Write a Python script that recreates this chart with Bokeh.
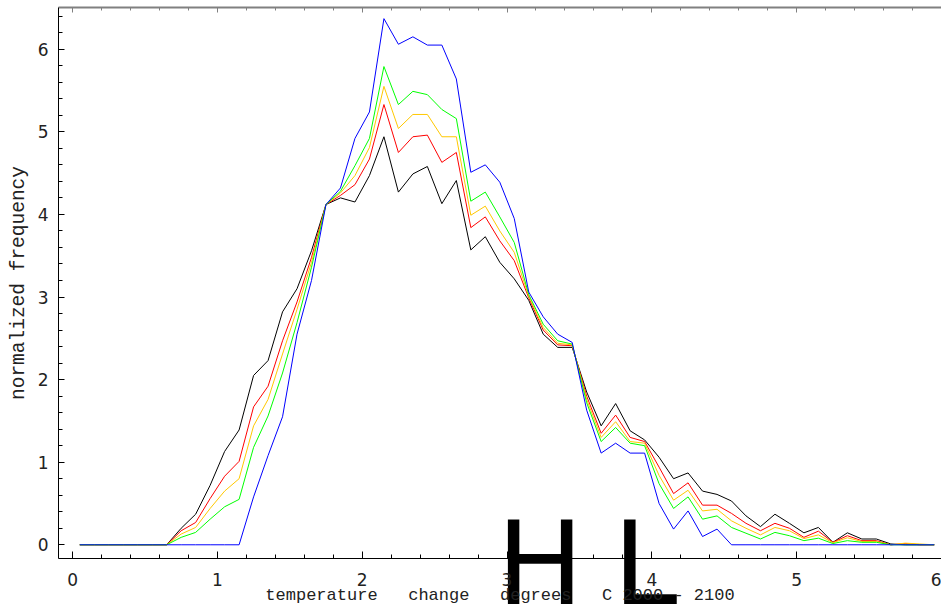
from bokeh.plotting import figure
from bokeh.models import Range1d, LinearAxis, SingleIntervalTicker, CustomJSTickFormatter
from bokeh.embed import file_html
from bokeh.resources import INLINE

# bin centres (degrees C)
temp_change = [0.05, 0.15, 0.25, 0.35, 0.45, 0.55, 0.65, 0.75, 0.85, 0.95,
               1.05, 1.15, 1.25, 1.35, 1.45, 1.55, 1.65, 1.75, 1.85, 1.95,
               2.05, 2.15, 2.25, 2.35, 2.45, 2.55, 2.65, 2.75, 2.85, 2.95,
               3.05, 3.15, 3.25, 3.35, 3.45, 3.55, 3.65, 3.75, 3.85, 3.95,
               4.05, 4.15, 4.25, 4.35, 4.45, 4.55, 4.65, 4.75, 4.85, 4.95,
               5.05, 5.15, 5.25, 5.35, 5.45, 5.55, 5.65, 5.75, 5.85, 5.95]

freq_black = [0, 0, 0, 0, 0, 0, 0, 0.20, 0.37, 0.72,
              1.13, 1.39, 2.05, 2.23, 2.82, 3.10, 3.56, 4.12, 4.20, 4.15,
              4.47, 4.94, 4.27, 4.49, 4.58, 4.13, 4.41, 3.57, 3.73, 3.42,
              3.22, 2.96, 2.55, 2.39, 2.39, 1.85, 1.44, 1.71, 1.38, 1.27,
              1.06, 0.80, 0.87, 0.65, 0.61, 0.53, 0.35, 0.22, 0.37, 0.26,
              0.145, 0.21, 0.03, 0.145, 0.07, 0.07, 0.01, 0, 0, 0]

freq_red = [0, 0, 0, 0, 0, 0, 0, 0.17, 0.27, 0.56,
            0.83, 1.01, 1.67, 1.92, 2.47, 2.94, 3.48, 4.12, 4.23, 4.36,
            4.67, 5.33, 4.75, 4.94, 4.96, 4.63, 4.75, 3.84, 3.97, 3.68,
            3.44, 2.99, 2.60, 2.42, 2.41, 1.80, 1.35, 1.57, 1.30, 1.25,
            0.94, 0.62, 0.75, 0.48, 0.48, 0.38, 0.26, 0.17, 0.26, 0.20,
            0.09, 0.165, 0.03, 0.11, 0.05, 0.05, 0.0, 0.015, 0, 0]

freq_gold = [0, 0, 0, 0, 0, 0, 0, 0.13, 0.21, 0.44,
             0.65, 0.80, 1.44, 1.76, 2.31, 2.85, 3.42, 4.12, 4.26, 4.47,
             4.81, 5.55, 5.04, 5.21, 5.21, 4.94, 4.94, 3.99, 4.10, 3.80,
             3.54, 3.01, 2.63, 2.44, 2.42, 1.76, 1.30, 1.49, 1.25, 1.23,
             0.84, 0.54, 0.66, 0.41, 0.43, 0.29, 0.20, 0.12, 0.21, 0.17,
             0.075, 0.12, 0.025, 0.085, 0.04, 0.04, 0, 0.02, 0.01, 0]

freq_green = [0, 0, 0, 0, 0, 0, 0, 0.09, 0.15, 0.31,
              0.46, 0.55, 1.18, 1.56, 2.08, 2.69, 3.36, 4.12, 4.28, 4.59,
              4.92, 5.79, 5.33, 5.49, 5.45, 5.27, 5.16, 4.16, 4.27, 3.97,
              3.66, 3.03, 2.67, 2.47, 2.43, 1.72, 1.25, 1.42, 1.23, 1.20,
              0.74, 0.44, 0.58, 0.31, 0.35, 0.21, 0.14, 0.07, 0.15, 0.11,
              0.05, 0.08, 0.015, 0.05, 0.03, 0.03, 0, 0, 0, 0]

freq_blue = [0, 0, 0, 0, 0, 0, 0, 0, 0, 0,
             0, 0, 0.58, 1.08, 1.55, 2.55, 3.20, 4.12, 4.32, 4.92,
             5.24, 6.37, 6.06, 6.15, 6.05, 6.05, 5.64, 4.51, 4.60, 4.39,
             3.95, 3.06, 2.76, 2.55, 2.45, 1.63, 1.11, 1.23, 1.11, 1.11,
             0.50, 0.19, 0.41, 0.10, 0.19, 0, 0, 0, 0, 0,
             0, 0, 0, 0, 0, 0, 0, 0, 0, 0]

series = [(freq_black, "#000000"), (freq_red, "#ff0000"), (freq_gold, "#ffc800"),
          (freq_green, "#00ff00"), (freq_blue, "#0000ff")]

NB = "\u00a0"
x_title = ("temperature" + NB * 3 + "change" + NB * 3 + "degrees" + NB * 3 + "C" + NB
           + "2000" + NB + "-" + NB + "2100")
y_title = "normalized frequency"
overlay_text = "\u2002" * 3 + "H" + "\u2005" + "L"

p = figure(width=941, height=609, output_backend="svg", toolbar_location=None,
           x_range=Range1d(-0.097, 6.0), y_range=Range1d(-0.166, 6.505),
           min_border_left=58, min_border_right=0, min_border_top=7, min_border_bottom=51,
           x_axis_location=None, y_axis_location=None)
p.outline_line_color = None
p.xgrid.visible = False
p.ygrid.visible = False
p.background_fill_color = "white"
p.border_fill_color = "white"

for vals, col in series:
    p.line(temp_change, vals, line_color=col, line_width=1)

def style_axis(ax):
    ax.major_tick_in = 7
    ax.major_tick_out = 0
    ax.minor_tick_in = 4
    ax.minor_tick_out = 0
    ax.axis_line_color = "black"
    ax.major_tick_line_color = "black"
    ax.minor_tick_line_color = "black"
    ax.major_label_text_font = "DejaVu Sans"
    ax.major_label_text_font_size = "17px"
    ax.major_label_text_color = "#222222"

xaxis = LinearAxis(ticker=SingleIntervalTicker(interval=1, num_minor_ticks=5))
style_axis(xaxis)
xaxis.major_label_standoff = 14
xaxis.axis_label = x_title
xaxis.axis_label_text_font = "Liberation Mono"
xaxis.axis_label_text_font_size = "17px"
xaxis.axis_label_text_font_style = "normal"
xaxis.axis_label_text_color = "#222222"
xaxis.axis_label_standoff = -3
p.add_layout(xaxis, "below")

yaxis = LinearAxis(ticker=SingleIntervalTicker(interval=1, num_minor_ticks=5))
style_axis(yaxis)
yaxis.major_tick_in = 6
yaxis.major_label_standoff = 10
yaxis.axis_label = y_title
yaxis.axis_label_text_font = "Liberation Mono"
yaxis.axis_label_text_font_size = "19.5px"
yaxis.axis_label_text_font_style = "normal"
yaxis.axis_label_text_color = "#222222"
yaxis.axis_label_standoff = 5
p.add_layout(yaxis, "left")

top = LinearAxis(ticker=SingleIntervalTicker(interval=1, num_minor_ticks=5),
                 formatter=CustomJSTickFormatter(code="return ''"))
top.axis_line_color = "#808080"
top.axis_line_width = 2
top.major_tick_line_color = "#808080"
top.minor_tick_line_color = "#808080"
top.major_tick_in = 5
top.major_tick_out = 0
top.minor_tick_in = 3
top.minor_tick_out = 0
top.major_label_standoff = 0
top.axis_label = overlay_text
top.axis_label_text_font = "DejaVu Sans"
top.axis_label_text_font_size = "116px"
top.axis_label_text_font_style = "normal"
top.axis_label_text_color = "black"
top.axis_label_standoff = -623
p.add_layout(top, "above")

open("out.html", "w").write(file_html(p, INLINE))
